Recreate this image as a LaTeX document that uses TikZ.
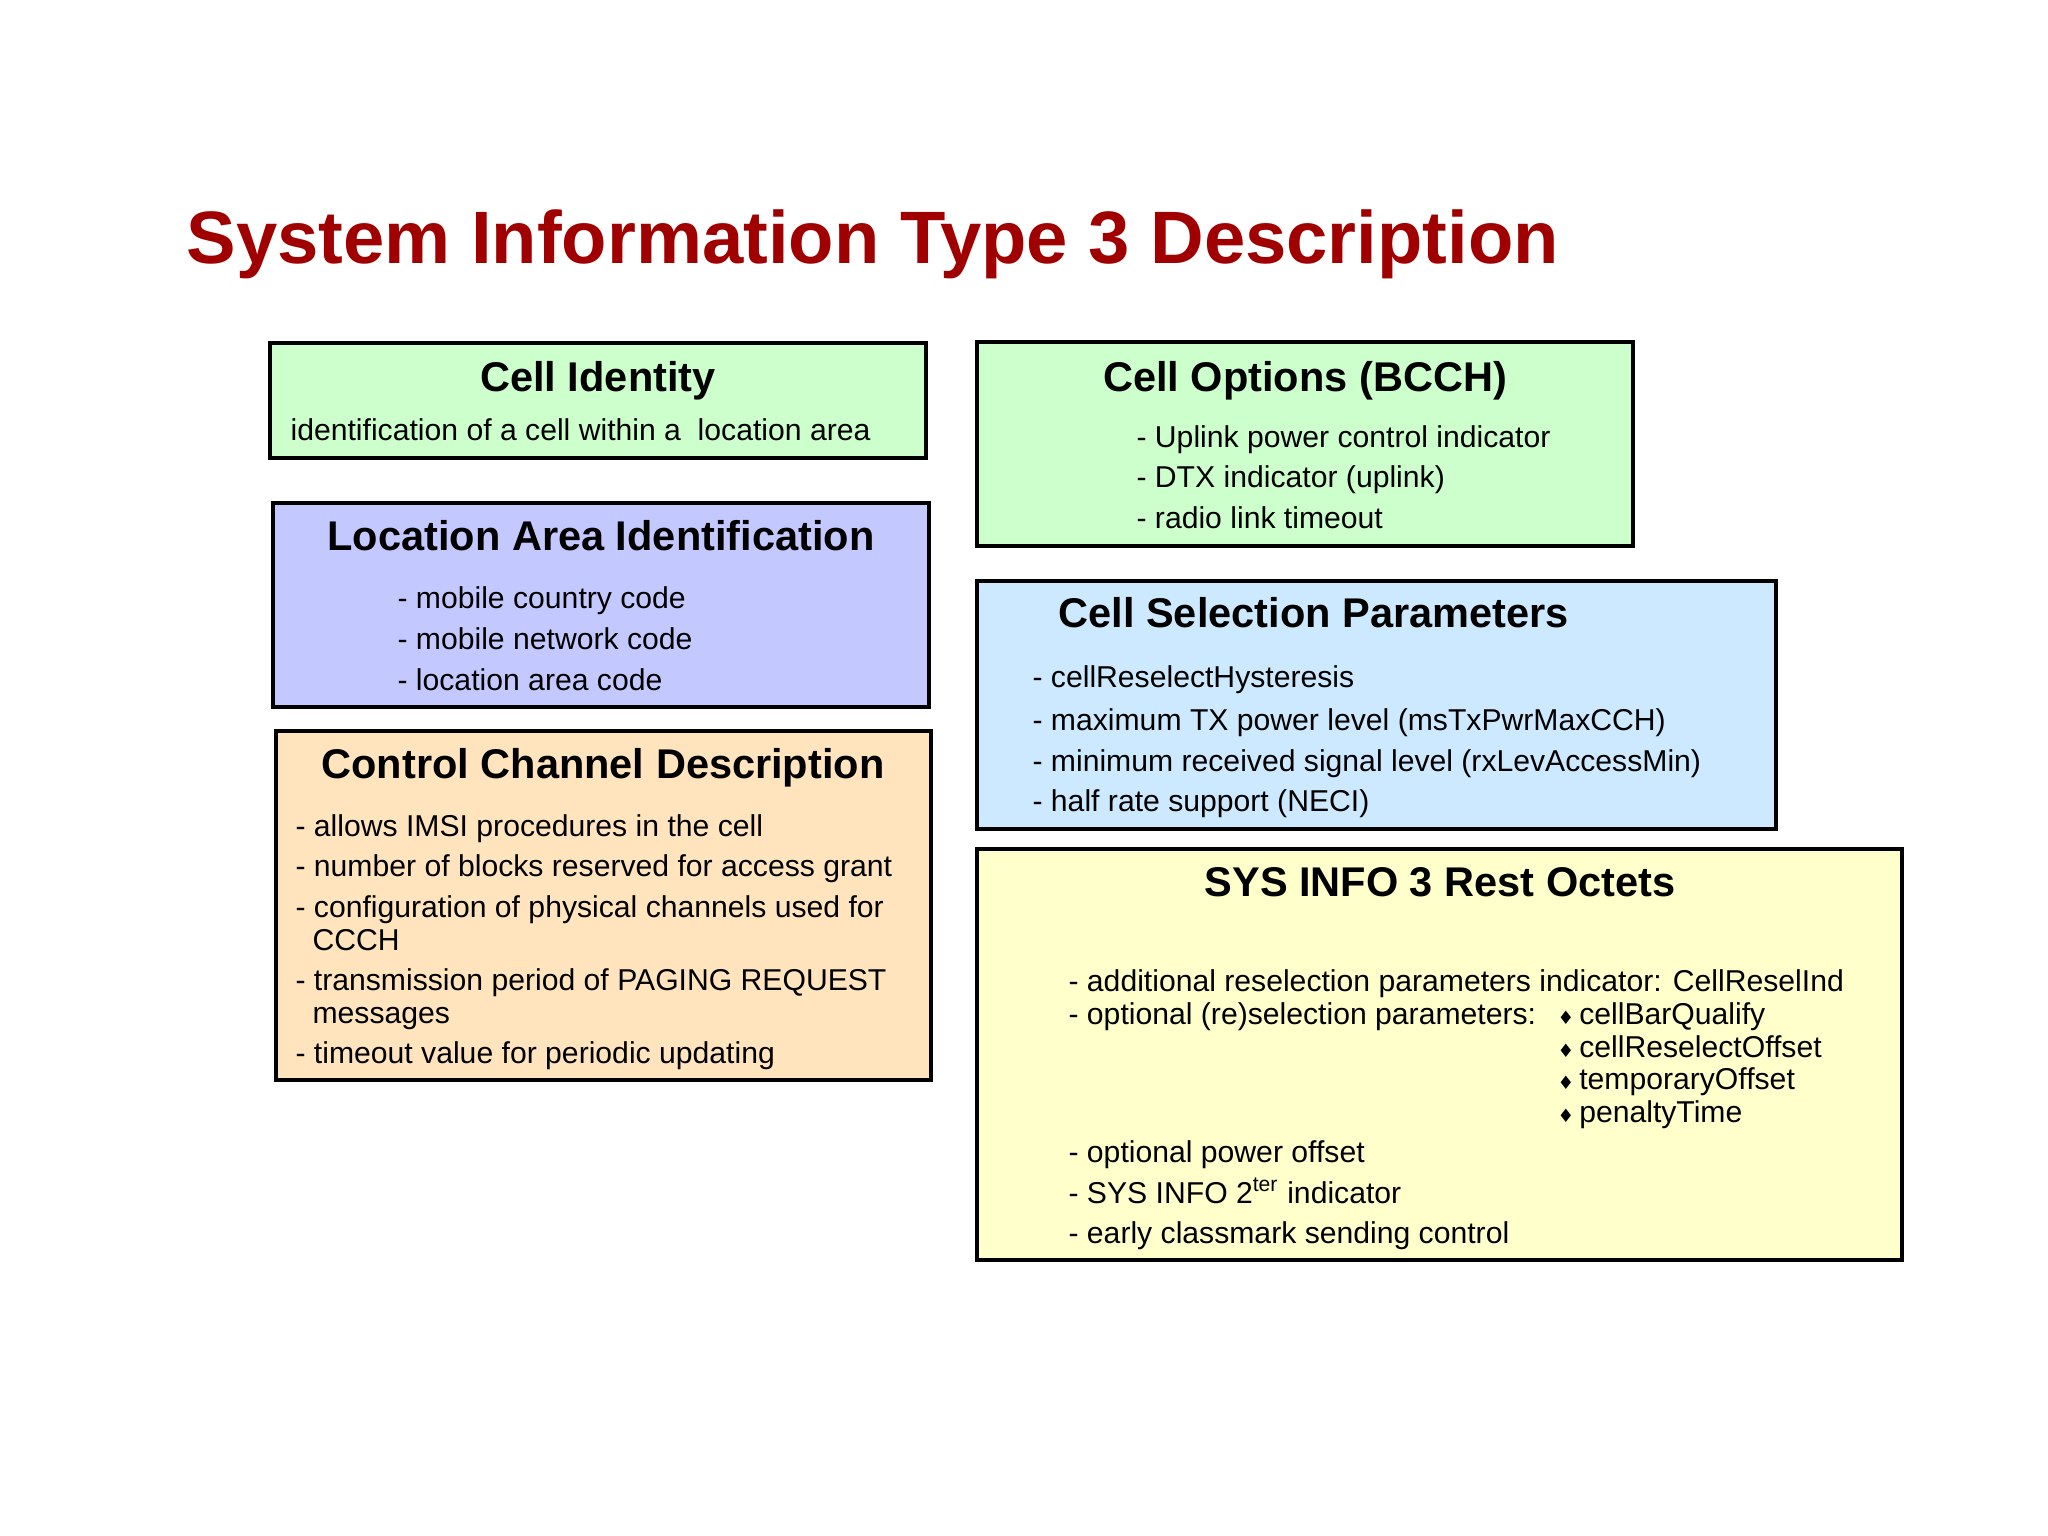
\documentclass[tikz,border=0pt]{standalone}
\usepackage{fontspec}
\setmainfont{Liberation Sans}
\newfontfamily\symfont{DejaVu Sans}
\usetikzlibrary{positioning,fit}
\definecolor{TitleRed}{HTML}{A00000}
\definecolor{Mint}{HTML}{CCFFCC}
\definecolor{Lavender}{HTML}{C3C9FF}
\definecolor{Peach}{HTML}{FFE4BE}
\definecolor{Sky}{HTML}{CDE9FF}
\definecolor{Cream}{HTML}{FFFFCC}
\tikzset{
  panel/.style={draw=black,line width=1.5pt,inner sep=0pt},
  head/.style={anchor=base,inner sep=0pt,font=\fontsize{14.6}{17}\selectfont\bfseries},
  item/.style={anchor=base west,inner sep=0pt,font=\fontsize{10.6}{12}\selectfont}
}
\newcommand{\dmd}{{\symfont\fontsize{6.5}{7}\selectfont ♦}\hspace{1.8pt}}

\begin{document}
\begin{tikzpicture}[x=0.35156pt,y=-0.35156pt]
  \useasboundingbox (0,0) rectangle (2048,1536);
  \node[anchor=base west,inner sep=0pt,text=TitleRed,
    font=\fontsize{26.1}{30}\selectfont\bfseries] (title) at (186,264)
    {System Information Type 3 Description};

  % left column
  \node[panel,fill=Mint,fit={(270,343)(926,458)}] (cid) {};
  \node[head] (cid-h) at (598,392) {Cell Identity};
  \node[item] (cid-t) at (290,441) {identification of a cell within a \ location area};

  \node[panel,fill=Lavender,fit={(273,503)(929,707)}] (lai) {};
  \node[head] (lai-h) at (601,551) {Location Area Identification};
  \foreach \y/\t [count=\i] in {609/mobile country code,
      649/mobile network code,
      690/location area code}
    \node[item] (lai-\i) at (397,\y) {- \t};

  \node[panel,fill=Peach,fit={(276,731)(931,1080)}] (ccd) {};
  \node[head] (ccd-h) at (603,778) {Control Channel Description};
  \foreach \x/\y/\t [count=\i] in {295/836/- allows IMSI procedures in the cell,
      295/876/- number of blocks reserved for access grant,
      295/917/- configuration of physical channels used for,
      312/950/CCCH,
      295/990/- transmission period of PAGING REQUEST,
      312/1023/messages,
      295/1063/- timeout value for periodic updating}
    \node[item] (ccd-\i) at (\x,\y) {\t};

  % right column
  \node[panel,fill=Mint,fit={(977,342)(1633,546)}] (opt) {};
  \node[head] (opt-h) at (1305,392) {Cell Options (BCCH)};
  \foreach \y/\t [count=\i] in {448/Uplink power control indicator,
      488/DTX indicator (uplink),
      529/radio link timeout}
    \node[item] (opt-\i) at (1136,\y) {- \t};

  \node[panel,fill=Sky,fit={(977,581)(1776,829)}] (sel) {};
  \node[head,anchor=base west] (sel-h) at (1058,628) {Cell Selection Parameters};
  \foreach \y/\t [count=\i] in {688/cellReselectHysteresis,
      730/maximum TX power level (msTxPwrMaxCCH),
      771/minimum received signal level (rxLevAccessMin),
      811/half rate support (NECI)}
    \node[item] (sel-\i) at (1032,\y) {- \t};

  \node[panel,fill=Cream,fit={(977,849)(1902,1260)}] (rest) {};
  \node[head] (rest-h) at (1440,896) {SYS INFO 3 Rest Octets};
  \foreach \y/\t [count=\i] in {991/additional reselection parameters indicator: CellReselInd,
      1024/optional (re)selection parameters:,
      1162/optional power offset,
      1203/SYS INFO 2\textsuperscript{ter} indicator,
      1243/early classmark sending control}
    \node[item] (rest-\i) at (1068,\y) {- \t};
  \foreach \y/\t [count=\i] in {1024/cellBarQualify,
      1057/cellReselectOffset,
      1089/temporaryOffset,
      1122/penaltyTime}
    \node[item] (par-\i) at (1557,\y) {\dmd\t};
\end{tikzpicture}
\end{document}
